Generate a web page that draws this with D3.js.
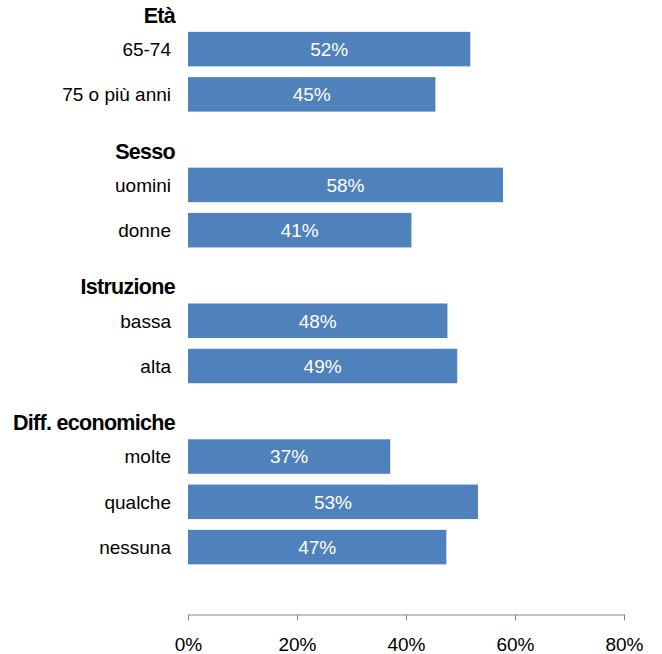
<!DOCTYPE html>
<html>
<head>
<meta charset="utf-8">
<script src="https://cdn.jsdelivr.net/npm/d3@7"></script>
<style>
  html, body { margin: 0; padding: 0; background: #fff; }
  svg { display: block; font-family: "Liberation Sans", Arial, sans-serif; }
</style>
</head>
<body>
<svg id="chart" width="662" height="654"></svg>
<script>
// ---- data ----
const groups = ["Età", "Sesso", "Istruzione", "Diff. economiche"];
const categories = [
  ["65-74", "75 o più anni"],
  ["uomini", "donne"],
  ["bassa", "alta"],
  ["molte", "qualche", "nessuna"]
];
const values = [
  [51.8, 45.4],
  [57.8, 41.0],
  [47.6, 49.4],
  [37.1, 53.2, 47.4]
];
const tickValues = [0, 20, 40, 60, 80];

// ---- build rows (header rows carry no bar) ----
const rows = [];
groups.forEach((g, gi) => {
  rows.push({ id: "h" + gi, label: g, header: true });
  categories[gi].forEach((c, ci) => {
    rows.push({ id: "c" + gi + "_" + ci, label: c, header: false, value: values[gi][ci] });
  });
});
rows.push({ id: "end", label: "", header: true, blank: true });

// ---- layout ----
const svg = d3.select("#chart");
const xLeft = 188, xRight = 624;
const axisY = 614;

const x = d3.scaleLinear().domain([0, 80]).range([xLeft, xRight]);
const y = d3.scaleBand()
  .domain(rows.map(r => r.id))
  .range([-18.8, 615])
  .paddingInner(0.238)
  .paddingOuter(0.119);

const barRows = rows.filter(r => !r.header);

// bars
svg.append("g").selectAll("rect")
  .data(barRows)
  .join("rect")
  .attr("x", x(0))
  .attr("y", d => y(d.id))
  .attr("width", d => x(d.value) - x(0))
  .attr("height", y.bandwidth())
  .attr("fill", "#4F81BD");

// value labels
svg.append("g").selectAll("text")
  .data(barRows)
  .join("text")
  .attr("x", d => (x(0) + x(d.value)) / 2)
  .attr("y", d => y(d.id) + y.bandwidth() / 2)
  .attr("dy", "0.36em")
  .attr("text-anchor", "middle")
  .attr("fill", "#fff")
  .style("font-size", "19px")
  .text(d => Math.round(d.value) + "%");

// category labels
svg.append("g").selectAll("text")
  .data(barRows)
  .join("text")
  .attr("x", 171)
  .attr("y", d => y(d.id) + y.bandwidth() / 2)
  .attr("dy", "0.36em")
  .attr("text-anchor", "end")
  .attr("fill", "#000")
  .style("font-size", "19px")
  .text(d => d.label);

// group headers
svg.append("g").selectAll("text")
  .data(rows.filter(r => r.header && !r.blank))
  .join("text")
  .attr("x", 175)
  .attr("y", d => y(d.id) + y.bandwidth() / 2 + 19)
  .attr("text-anchor", "end")
  .attr("fill", "#000")
  .style("font-size", "21.5px")
  .style("font-weight", "bold")
  .style("letter-spacing", "-0.7px")
  .text(d => d.label);

// x axis
const axis = d3.axisBottom(x)
  .tickValues(tickValues)
  .tickSize(6)
  .tickSizeOuter(0)
  .tickFormat(d => d + "%");

const gAxis = svg.append("g")
  .attr("transform", `translate(0,${axisY + 0.5})`)
  .call(axis);
gAxis.select(".domain").attr("stroke", "#868686").attr("stroke-width", 1);
gAxis.selectAll(".tick line").attr("stroke", "#868686");
gAxis.selectAll(".tick text")
  .attr("fill", "#000")
  .attr("y", 36.5)
  .attr("dy", 0)
  .style("font-size", "19px")
  .style("font-family", "'Liberation Sans', Arial, sans-serif");
</script>
</body>
</html>
